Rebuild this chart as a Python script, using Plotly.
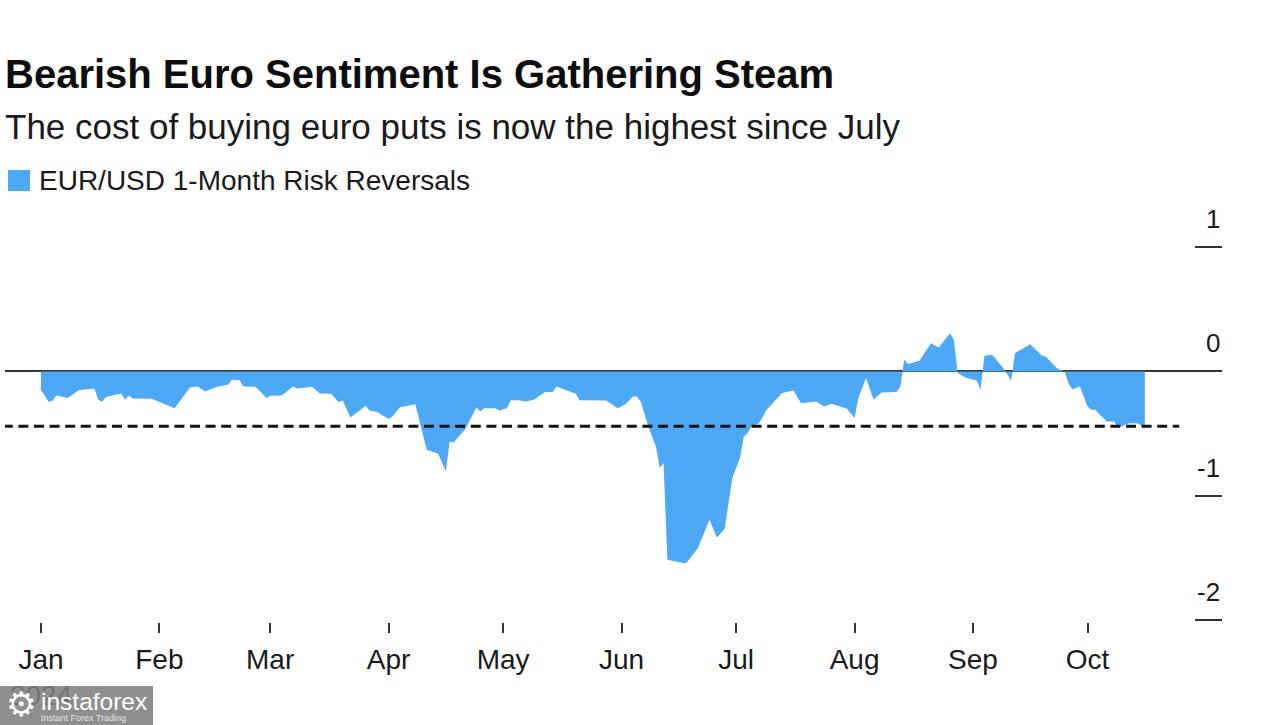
import pandas as pd
import plotly.graph_objects as go

TITLE = "Bearish Euro Sentiment Is Gathering Steam"
SUBTITLE = "The cost of buying euro puts is now the highest since July"
SERIES = "EUR/USD 1-Month Risk Reversals"

days_since_jan1 = [0, 2, 3, 4, 7, 10, 14, 15, 16, 17, 21, 22, 23, 24, 29, 35, 39, 41, 43, 44, 46, 49, 50, 52, 53, 56, 57, 59, 60, 63, 66, 67, 71, 73, 76, 78, 79, 81, 85, 86, 88, 91, 92, 94, 98, 101, 104, 106, 107, 108, 111, 114, 115, 116, 119, 120, 122, 123, 125, 127, 129, 132, 134, 135, 140, 141, 146, 148, 151, 153, 155, 156, 157, 159, 161, 162, 163, 164, 168, 169, 172, 175, 177, 179, 181, 183, 184, 185, 186, 188, 190, 194, 197, 199, 203, 205, 207, 211, 213, 214, 216, 218, 220, 224, 225, 226, 227, 230, 233, 235, 238, 239, 240, 242, 245, 246, 247, 249, 252, 254, 255, 259, 262, 263, 266, 268, 269, 270, 272, 274, 275, 276, 279, 281, 282, 285, 287, 289]
risk_reversal = [-0.147, -0.244, -0.236, -0.193, -0.214, -0.150, -0.137, -0.228, -0.244, -0.206, -0.177, -0.228, -0.193, -0.217, -0.220, -0.295, -0.129, -0.121, -0.161, -0.147, -0.123, -0.107, -0.067, -0.070, -0.121, -0.123, -0.147, -0.214, -0.196, -0.193, -0.121, -0.137, -0.123, -0.177, -0.180, -0.247, -0.233, -0.370, -0.276, -0.314, -0.327, -0.383, -0.362, -0.287, -0.263, -0.630, -0.662, -0.804, -0.563, -0.571, -0.469, -0.287, -0.322, -0.295, -0.295, -0.314, -0.295, -0.231, -0.231, -0.241, -0.228, -0.166, -0.166, -0.121, -0.180, -0.231, -0.233, -0.233, -0.295, -0.263, -0.201, -0.201, -0.241, -0.442, -0.603, -0.777, -0.737, -1.515, -1.542, -1.542, -1.421, -1.193, -1.335, -1.265, -0.858, -0.697, -0.523, -0.496, -0.442, -0.416, -0.308, -0.174, -0.153, -0.255, -0.241, -0.282, -0.260, -0.300, -0.375, -0.214, -0.054, -0.228, -0.169, -0.166, -0.121, 0.094, 0.060, 0.086, 0.228, 0.193, 0.308, 0.255, -0.013, -0.048, -0.075, -0.147, 0.126, 0.134, 0.027, -0.075, 0.147, 0.220, 0.129, 0.121, 0.027, 0.000, -0.094, -0.142, -0.121, -0.282, -0.308, -0.308, -0.402, -0.402, -0.450, -0.416, -0.416, -0.450]

threshold = -0.44
threshold_days = [-10, 298]

month_days = [0, 31, 60, 91, 121, 152, 182, 213, 244, 274]
month_labels = ["Jan<br>2024", "Feb", "Mar", "Apr", "May", "Jun", "Jul", "Aug", "Sep", "Oct"]
y_ticks = [-2, -1, 0, 1]
y_labels = ["-2", "-1", "0", "1"]

START = pd.Timestamp("2024-01-01")
def to_dates(days):
    return [START + pd.Timedelta(days=float(d)) for d in days]

W, H = 1280, 725
FONT = "Liberation Sans, Arial, sans-serif"
INK = "#1a1a1a"
BLUE = "#4DA9F6"

L, R, T, B = 5, 58, 200, 103
PW, PH = W - L - R, H - T - B
def px_x(px): return (px - L) / PW
def px_y(py): return 1 - (py - T) / PH

fig = go.Figure()
fig.add_trace(go.Scatter(x=to_dates(days_since_jan1), y=risk_reversal, mode="lines",
                         line=dict(width=0, color=BLUE), fill="tozeroy", fillcolor=BLUE,
                         name=SERIES, showlegend=False, hoverinfo="x+y"))
fig.add_trace(go.Scatter(x=to_dates(threshold_days), y=[threshold, threshold], mode="lines",
                         line=dict(color="#111111", width=3, dash="10px,5.6px"),
                         showlegend=False, hoverinfo="skip"))

annotations = [
    dict(text=SUBTITLE, x=px_x(3), y=px_y(127), font=dict(size=35, color=INK)),
    dict(text=SERIES, x=px_x(37), y=px_y(180.5), font=dict(size=28, color=INK)),
    dict(text="instaforex", x=px_x(39), y=px_y(701), font=dict(size=24.5, color="white")),
    dict(text="Instant Forex Trading", x=px_x(39), y=px_y(718), font=dict(size=9, color="#e6e6e6")),
    dict(text="⚙", x=px_x(4), y=px_y(704), font=dict(size=34, color="white", family="DejaVu Sans")),
]
for a in annotations:
    a.update(xref="paper", yref="paper", xanchor="left", yanchor="middle", showarrow=False)
for v, t in zip(y_ticks, y_labels):
    annotations.append(dict(text=t, xref="paper", yref="y", x=1, y=v, xanchor="right", yanchor="bottom",
                            yshift=11, showarrow=False, font=dict(size=26, color=INK)))

shapes = [
    dict(type="rect", xref="paper", yref="paper", x0=px_x(8), x1=px_x(30), y0=px_y(191), y1=px_y(170),
         fillcolor=BLUE, line_width=0),
    dict(type="rect", xref="paper", yref="paper", x0=px_x(0), x1=px_x(153), y0=px_y(725), y1=px_y(686),
         fillcolor="rgba(128,128,128,0.88)", line_width=0, layer="above"),
]

fig.update_layout(
    width=W, height=H, margin=dict(l=L, r=R, t=T, b=B),
    paper_bgcolor="white", plot_bgcolor="white",
    font=dict(family=FONT, color=INK),
    showlegend=False,
    title=dict(text=TITLE, x=5 / W, xanchor="left", y=1 - 74 / H, yanchor="middle",
               font=dict(size=40, weight=700, color="#0d0d0d")),
    annotations=annotations, shapes=shapes,
    xaxis=dict(range=[START + pd.Timedelta(days=-9.42), START + pd.Timedelta(days=309.2)],
               tickmode="array", tickvals=to_dates(month_days), ticktext=month_labels,
               ticks="outside", ticklen=10, tickwidth=2, tickcolor="#333333",
               showgrid=False, zeroline=False, showline=False,
               ticklabelstandoff=2, tickfont=dict(size=28, color=INK)),
    yaxis=dict(range=[-2.016, 1.38], side="right", tickmode="array", tickvals=y_ticks,
               ticktext=[""] * len(y_ticks), ticks="inside", ticklen=27, tickwidth=2, tickcolor="#333333",
               showgrid=False, zeroline=True, zerolinecolor="#333333", zerolinewidth=2, showline=False),
)

fig.write_html("out.html", config=dict(displayModeBar=False), post_script="document.body.style.margin='0';")
